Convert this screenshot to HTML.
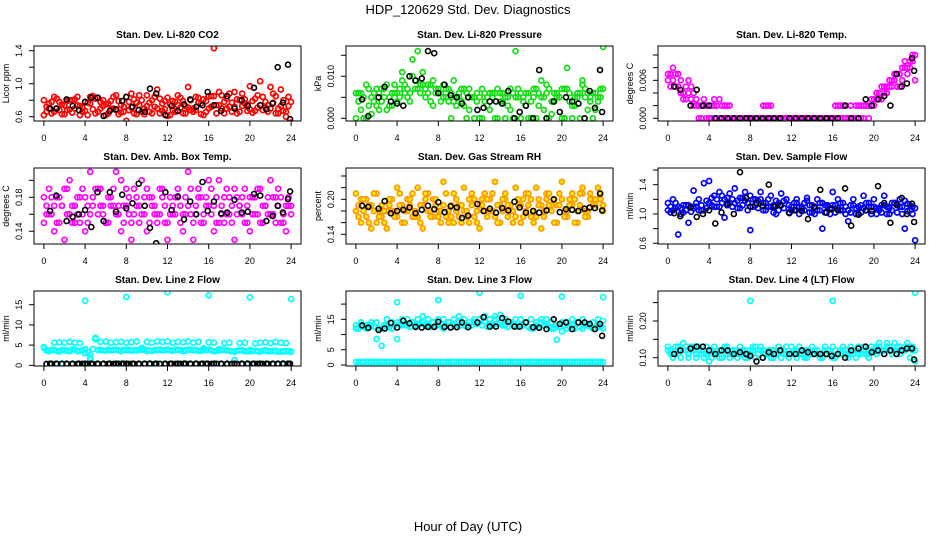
<!DOCTYPE html>
<html><head><meta charset="utf-8">
<style>
html,body{margin:0;padding:0;background:#fff;}
svg{display:block;font-family:"Liberation Sans",Arial,sans-serif;}
</style></head>
<body>
<svg id="chart" width="936" height="540" viewBox="0 0 936 540" xmlns="http://www.w3.org/2000/svg">
<rect x="0" y="0" width="936" height="540" fill="#fff"/>
<text x="468" y="14" text-anchor="middle" font-size="13">HDP_120629  Std. Dev. Diagnostics</text>
<text x="468" y="531" text-anchor="middle" font-size="13">Hour of Day (UTC)</text>
</svg>
<script>
// ---- shared x categories ----
const xTicks = [0,4,8,12,16,20,24];
const hoursHalf = [];
for (let h = 0; h <= 24; h += 0.5) hoursHalf.push(h);
const hoursOff = [];
for (let h = 0.25; h < 24; h += 0.5) hoursOff.push(h);
const blackHours = [0.6,1.2,2.2,2.8,3.4,4,4.6,5.2,5.8,6.4,7,7.6,8,8.6,9.2,9.8,10.3,10.9,11.8,12.4,13,13.6,14.2,14.8,15.4,15.9,16.5,17.2,17.8,18.5,19.2,19.8,20.4,21,21.6,22.2,22.7,23.2,23.7,23.9];
const outlierHours = [4,8,12,16,20,24];

// ---- CO2 ----
const co2A = [0.80,0.70,0.66,0.78,0.74,0.69,0.81,0.73,0.67,0.76,0.82,0.70,0.75,0.79,0.68,0.74,0.84,0.71,0.77,0.66,0.73,0.80,0.70,0.76,0.83,0.68,0.74,0.79,0.71,0.66,0.77,0.81,0.70,0.85,0.74,0.78,0.88,0.72,0.80,0.76,0.69,0.82,0.74,0.78,0.70,0.85,0.73,0.66,0.78];
const co2B = [0.62,0.76,0.84,0.68,0.63,0.80,0.70,0.62,0.78,0.84,0.64,0.78,0.62,0.69,0.86,0.65,0.55,0.88,0.63,0.80,0.86,0.64,0.93,0.67,0.61,0.79,0.86,0.64,0.96,0.70,0.83,0.62,0.85,1.43,0.90,0.64,0.72,0.90,0.66,0.81,0.97,0.67,1.03,0.71,0.96,0.64,0.93,0.60,0.53];
const co2C = [0.72,0.78,0.70,0.75,0.68,0.80,0.74,0.71,0.77,0.69,0.83,0.73,0.76,0.70,0.79,0.72,0.68,0.81,0.74,0.70,0.77,0.72,0.82,0.69,0.75,0.78,0.71,0.73,0.80,0.68,0.76,0.79,0.72,0.74,0.86,0.70,0.77,0.81,0.73,0.75,0.79,0.71,0.84,0.74,0.77,0.70,0.80,0.73];
const co2D = [0.66,0.64,0.82,0.63,0.79,0.65,0.84,0.66,0.62,0.85,0.66,0.80,0.64,0.84,0.63,0.66,0.78,0.64,0.86,0.63,0.66,0.84,0.64,0.79,0.62,0.66,0.83,0.64,0.68,0.84,0.63,0.66,0.85,0.64,0.70,0.82,0.66,0.64,0.88,0.67,0.65,0.86,0.68,0.66,0.88,0.64,0.67,0.84];
const co2K = [0.70,0.70,0.81,0.73,0.68,0.78,0.83,0.83,0.61,0.67,0.69,0.79,0.84,0.72,0.68,0.66,0.94,0.88,0.62,0.73,0.67,0.75,0.81,0.72,0.74,0.90,0.74,0.67,0.85,0.70,0.80,0.73,0.95,0.74,0.69,0.76,1.20,0.77,1.23,0.57];
// ---- Pressure ----
const presA = [0.006,0.002,0.000,0.005,0.007,0.004,0.008,0.003,0.006,0.009,0.005,0.010,0.007,0.011,0.008,0.009,0.006,0.008,0.007,0.004,0.006,0.003,0.007,0.000,0.005,0.006,0.002,0.006,0.004,0.000,0.007,0.005,0.006,0.003,0.000,0.007,0.005,0.008,0.004,0.006,0.000,0.007,0.003,0.006,0.008,0.002,0.006,0.005,0.007];
const presB = [0.000,0.006,0.008,0.001,0.003,0.007,0.002,0.006,0.004,0.011,0.007,0.014,0.016,0.008,0.006,0.003,0.007,0.005,0.004,0.009,0.005,0.007,0.002,0.005,0.000,0.004,0.006,0.000,0.006,0.005,0.002,0.016,0.000,0.006,0.004,0.000,0.009,0.006,0.001,0.005,0.007,0.012,0.000,0.005,0.009,0.006,0.000,0.004,0.017];
const presC = [0.006,0.005,0.007,0.004,0.006,0.007,0.005,0.006,0.007,0.008,0.006,0.009,0.008,0.007,0.008,0.007,0.006,0.007,0.006,0.005,0.007,0.006,0.005,0.006,0.007,0.005,0.006,0.007,0.006,0.005,0.006,0.007,0.005,0.006,0.007,0.006,0.005,0.007,0.006,0.005,0.007,0.006,0.005,0.006,0.007,0.005,0.006,0.007];
const presD = [0.004,0.000,0.003,0.006,0.002,0.005,0.003,0.008,0.005,0.006,0.004,0.007,0.006,0.005,0.004,0.006,0.004,0.005,0.000,0.003,0.004,0.000,0.005,0.004,0.000,0.003,0.005,0.000,0.004,0.003,0.000,0.005,0.004,0.000,0.005,0.003,0.002,0.000,0.004,0.005,0.000,0.004,0.003,0.000,0.005,0.004,0.002,0.005];
const presK = [0.0045,0.0005,0.005,0.0075,0.004,0.0035,0.003,0.010,0.009,0.0095,0.016,0.0155,0.006,0.008,0.0055,0.005,0.0035,0.005,0.002,0.0025,0.004,0.004,0.0035,0.0065,0.000,0.0015,0.003,0.000,0.0115,0.000,0.004,0.0015,0.005,0.004,0.0035,0.000,0.0065,0.0025,0.0115,0.0015];
// ---- Li-820 Temp ----
const tempA = [0.007,0.008,0.005,0.004,0.006,0.004,0.002,0.002,0.000,0.002,0.003,0.000,0.002,0.000,0.000,0.000,0.000,0.000,0.000,0.000,0.002,0.000,0.000,0.000,0.000,0.000,0.000,0.000,0.000,0.000,0.000,0.000,0.000,0.000,0.002,0.000,0.000,0.002,0.002,0.000,0.003,0.004,0.005,0.005,0.006,0.007,0.008,0.009,0.010];
const tempB = [0.006,0.006,0.007,0.003,0.004,0.002,0.000,0.003,0.002,0.003,0.000,0.002,0.000,0.000,0.000,0.000,0.000,0.000,0.000,0.002,0.000,0.000,0.000,0.000,0.000,0.000,0.000,0.000,0.000,0.000,0.000,0.000,0.000,0.002,0.000,0.000,0.000,0.000,0.000,0.002,0.002,0.003,0.004,0.006,0.007,0.005,0.009,0.008,0.006];
const tempC = [0.007,0.005,0.006,0.005,0.003,0.002,0.002,0.000,0.002,0.002,0.000,0.002,0.000,0.000,0.000,0.000,0.000,0.000,0.000,0.002,0.000,0.000,0.000,0.000,0.000,0.000,0.000,0.000,0.000,0.000,0.000,0.000,0.000,0.002,0.002,0.000,0.002,0.002,0.002,0.003,0.004,0.003,0.005,0.005,0.007,0.006,0.008,0.009];
const tempD = [0.005,0.007,0.004,0.003,0.005,0.003,0.000,0.002,0.000,0.000,0.002,0.000,0.000,0.000,0.000,0.000,0.000,0.000,0.002,0.000,0.000,0.000,0.000,0.000,0.000,0.000,0.000,0.000,0.000,0.000,0.000,0.000,0.002,0.000,0.000,0.002,0.000,0.000,0.002,0.002,0.003,0.005,0.004,0.006,0.005,0.008,0.007,0.010];
const tempK = [0.005,0.0045,0.002,0.0045,0.002,0.002,0.000,0.000,0.000,0.000,0.000,0.000,0.000,0.000,0.000,0.000,0.000,0.000,0.000,0.000,0.000,0.000,0.000,0.000,0.000,0.000,0.000,0.002,0.000,0.000,0.003,0.002,0.003,0.0035,0.002,0.007,0.005,0.0055,0.0095,0.0075];
// ---- Amb Box Temp ----
const ambA = [0.18,0.16,0.17,0.15,0.19,0.16,0.17,0.15,0.18,0.16,0.19,0.17,0.15,0.18,0.16,0.20,0.17,0.15,0.18,0.16,0.19,0.17,0.16,0.18,0.15,0.17,0.19,0.16,0.17,0.15,0.18,0.16,0.20,0.17,0.15,0.18,0.16,0.19,0.17,0.15,0.18,0.16,0.19,0.17,0.16,0.18,0.15,0.17,0.16];
const ambB = [0.15,0.19,0.14,0.18,0.13,0.20,0.15,0.18,0.14,0.21,0.12,0.19,0.15,0.17,0.21,0.14,0.19,0.13,0.17,0.20,0.14,0.18,0.15,0.19,0.13,0.16,0.18,0.14,0.21,0.13,0.19,0.15,0.17,0.14,0.20,0.15,0.18,0.13,0.17,0.19,0.14,0.18,0.15,0.17,0.20,0.15,0.18,0.14,0.17];
const ambC = [0.17,0.16,0.18,0.17,0.16,0.17,0.18,0.16,0.17,0.18,0.16,0.17,0.18,0.17,0.16,0.17,0.18,0.16,0.17,0.16,0.18,0.17,0.16,0.17,0.18,0.16,0.17,0.18,0.16,0.17,0.18,0.17,0.16,0.18,0.17,0.16,0.17,0.18,0.16,0.17,0.18,0.16,0.17,0.16,0.18,0.17,0.16,0.17];
const ambD = [0.16,0.18,0.15,0.17,0.19,0.15,0.16,0.19,0.15,0.17,0.19,0.16,0.15,0.19,0.17,0.15,0.16,0.19,0.15,0.18,0.15,0.16,0.19,0.15,0.16,0.18,0.15,0.16,0.19,0.16,0.15,0.18,0.19,0.15,0.16,0.19,0.15,0.16,0.18,0.15,0.16,0.19,0.15,0.18,0.16,0.19,0.15,0.18];
const ambK = [0.164,0.182,0.152,0.157,0.160,0.165,0.145,0.186,0.152,0.186,0.163,0.183,0.167,0.173,0.196,0.170,0.144,0.126,0.186,0.165,0.181,0.154,0.175,0.160,0.198,0.164,0.175,0.161,0.162,0.177,0.162,0.163,0.184,0.182,0.152,0.158,0.170,0.162,0.178,0.187];
// ---- Gas Stream RH ----
const rhA = [0.18,0.20,0.17,0.19,0.16,0.19,0.18,0.20,0.17,0.19,0.18,0.21,0.17,0.19,0.18,0.20,0.17,0.19,0.18,0.16,0.19,0.18,0.20,0.17,0.19,0.18,0.20,0.17,0.19,0.21,0.18,0.17,0.19,0.18,0.20,0.17,0.19,0.21,0.18,0.19,0.20,0.17,0.19,0.18,0.21,0.17,0.19,0.20,0.18];
const rhB = [0.21,0.16,0.20,0.15,0.21,0.17,0.15,0.18,0.22,0.16,0.20,0.17,0.22,0.15,0.21,0.17,0.18,0.23,0.16,0.21,0.17,0.22,0.16,0.20,0.15,0.21,0.18,0.23,0.16,0.20,0.19,0.22,0.16,0.21,0.17,0.22,0.15,0.20,0.19,0.16,0.23,0.18,0.21,0.16,0.22,0.18,0.20,0.22,0.19];
const rhC = [0.19,0.18,0.19,0.18,0.17,0.18,0.19,0.18,0.19,0.18,0.19,0.18,0.19,0.20,0.18,0.19,0.18,0.17,0.19,0.18,0.19,0.18,0.19,0.18,0.19,0.20,0.18,0.19,0.18,0.19,0.18,0.19,0.20,0.19,0.18,0.19,0.18,0.19,0.20,0.19,0.18,0.19,0.20,0.19,0.18,0.20,0.19,0.20];
const rhD = [0.17,0.20,0.16,0.21,0.18,0.16,0.20,0.17,0.21,0.16,0.20,0.17,0.16,0.21,0.17,0.20,0.16,0.21,0.17,0.20,0.16,0.17,0.21,0.16,0.20,0.17,0.21,0.16,0.20,0.17,0.16,0.20,0.17,0.21,0.16,0.20,0.17,0.21,0.16,0.21,0.17,0.20,0.16,0.21,0.17,0.21,0.20,0.21];
const rhK = [0.189,0.187,0.184,0.197,0.176,0.180,0.182,0.186,0.176,0.182,0.189,0.183,0.195,0.178,0.188,0.186,0.168,0.172,0.192,0.180,0.184,0.177,0.185,0.181,0.196,0.186,0.177,0.180,0.177,0.181,0.200,0.178,0.183,0.182,0.180,0.184,0.186,0.185,0.210,0.181];
// ---- Sample Flow ----
const sfA = [1.15,1.05,1.10,1.02,1.12,1.08,1.20,1.05,1.15,1.25,1.10,1.20,1.28,1.15,1.22,1.18,1.25,1.12,1.20,1.15,1.10,1.18,1.12,1.20,1.10,1.15,1.08,1.18,1.12,1.05,1.15,1.10,1.12,1.08,1.15,1.05,1.12,1.10,1.08,1.15,1.10,1.05,1.12,1.08,1.15,1.10,1.18,1.12,1.08];
const sfB = [1.05,1.20,0.72,1.12,0.88,1.32,1.05,1.42,1.45,1.10,1.30,0.95,1.15,1.35,1.08,1.30,0.78,1.20,1.30,1.05,1.25,1.00,1.28,1.20,1.05,1.20,1.10,1.22,1.02,1.20,0.80,1.12,1.30,1.20,1.05,0.90,1.20,1.00,1.25,1.10,1.20,1.08,1.25,1.00,1.15,1.20,0.80,1.05,0.64];
const sfC = [1.10,1.15,1.08,1.12,1.10,1.15,1.12,1.18,1.22,1.20,1.25,1.22,1.20,1.18,1.22,1.15,1.20,1.18,1.15,1.20,1.12,1.15,1.18,1.12,1.15,1.10,1.15,1.12,1.10,1.15,1.12,1.08,1.12,1.15,1.10,1.12,1.08,1.12,1.15,1.10,1.08,1.12,1.10,1.15,1.12,1.10,1.14,1.10];
const sfD = [1.02,1.08,1.00,1.05,1.03,1.10,1.05,1.08,1.12,1.10,1.15,1.12,1.10,1.08,1.12,1.05,1.10,1.08,1.05,1.10,1.02,1.05,1.08,1.02,1.05,1.00,1.05,1.02,1.00,1.05,1.02,1.00,1.02,1.05,1.00,1.02,1.00,1.02,1.05,1.00,1.00,1.02,1.00,1.05,1.02,1.00,1.04,1.00];
const sfK = [1.01,0.97,1.09,0.96,1.00,1.05,0.87,1.02,1.14,1.00,1.57,1.22,1.10,1.15,1.11,1.40,1.10,1.12,1.01,1.05,1.04,0.93,1.09,1.33,1.02,1.07,1.05,1.35,0.84,0.99,1.05,1.04,1.38,1.15,0.88,1.13,1.22,1.00,1.14,0.89];
// ---- Line 2 Flow ----
const l2A = [4.5,3.6,3.8,3.4,3.7,3.5,3.9,3.6,3.0,2.5,6.5,3.8,3.6,3.7,3.9,3.5,3.8,3.6,3.7,3.9,3.5,3.6,3.8,3.7,3.9,3.6,3.8,3.5,3.9,3.7,3.6,3.8,3.9,3.5,3.7,3.8,3.6,3.4,3.7,3.5,3.8,3.6,3.4,3.7,3.5,3.6,3.4,3.5,3.4];
const l2B = [4.3,3.5,5.6,5.7,5.6,5.8,5.6,5.5,4.0,1.8,6.8,5.8,5.9,5.6,5.7,5.8,5.6,5.7,5.9,4.3,5.8,5.6,5.9,5.8,5.9,5.6,5.8,5.7,5.9,5.6,5.8,4.2,5.7,5.6,4.0,5.5,5.6,1.3,5.5,5.6,3.5,5.4,5.6,5.7,5.5,5.8,5.6,5.5,3.4];
const l2C = [3.7,3.8,3.6,3.8,3.7,3.9,3.5,3.7,3.3,4.0,3.8,3.7,3.9,3.8,3.7,3.9,3.8,3.7,3.8,3.9,3.7,3.8,3.9,3.8,3.7,3.9,3.8,3.7,3.9,3.8,3.6,3.8,3.7,3.6,3.8,3.7,3.5,3.6,3.7,3.5,3.6,3.5,3.6,3.5,3.6,3.4,3.5,3.5];
const l2D = [0.3,0.4,0.3,0.5,0.3,0.4,0.3,0.4,0.5,0.3,0.4,0.3,0.4,0.3,0.5,0.4,0.3,0.4,0.3,0.4,0.5,0.3,0.4,0.3,0.4,0.3,0.4,0.5,0.3,0.4,0.3,0.4,0.3,0.5,0.4,0.3,0.4,0.3,0.4,0.5,0.3,0.4,0.3,0.4,0.3,0.4,0.5,0.3];
const l2Out = [16.0,16.9,18.1,17.3,16.8,16.4];
const l2K = [0.4,0.4,0.4,0.4,0.4,0.4,0.4,0.4,0.4,0.4,0.4,0.4,0.4,0.4,0.4,0.4,0.4,0.4,0.4,0.4,0.4,0.4,0.4,0.4,0.4,0.4,0.4,0.4,0.4,0.4,0.4,0.4,0.4,0.4,0.4,0.4,0.4,0.4,0.4,0.4];
const l2K2 = [0.35,0.35,0.35,0.35,0.35,0.35,0.35,0.35,0.35,0.35,0.35,0.35,0.35,0.35,0.35,0.35,0.35,0.35,0.35,0.35,0.35,0.35,0.35,0.35,0.35,0.35,0.35,0.35,0.35,0.35,0.35,0.35,0.35,0.35,0.35,0.35,0.35,0.35,0.35,0.35,0.35,0.35,0.35,0.35,0.35,0.35,0.35,0.35];
// ---- Line 3 Flow ----
const l3A = [12,13,12,13,8.5,12,13,12,14,13,13,14,13,14,13,14,13,12,14,13,14,13,13,14,15,14,13,15,14,13,14,13,13,14,12,13,14,13,12,13,14,12,13,14,12,13,12,13,12];
const l3B = [13,14,13,14,14,6.3,15,14,8.5,15,15,14,15,16,15,14,15,15,14,15,16,15,14,15,15,16,15,16,16.5,15,14,15,15,14,15,14,15,15,14,8.3,11,14,15,14,15,13,14,15,14.5];
const l3C = [12,12.5,13,12.5,12,13,12.5,13,13.5,13,12.5,13,13.5,13,12.5,13,13.5,13,12.5,13,13,12.5,13,13.5,13,12.5,13,13.5,13,12.5,13,12.5,13,12.5,12,12.5,13,12.5,12,12.5,13,12.5,12,12.5,13,12.5,12,12.5];
const l3D = [1,1,1,1,1,1,1,1,1,1,1,1,1,1,1,1,1,1,1,1,1,1,1,1,1,1,1,1,1,1,1,1,1,1,1,1,1,1,1,1,1,1,1,1,1,1,1,1];
const l3E = [1,1,1,1,1,1,1,1,1,1,1,1,1,1,1,1,1,1,1,1,1,1,1,1,1,1,1,1,1,1,1,1,1,1,1,1,1,1,1,1,1,1,1,1,1,1,1,1,1];
const l3Out = [20.6,21.3,23.7,22.7,22.5,22.3];
const l3K = [13,12.2,11.5,12,13.8,12.3,14.5,13.7,12.5,12.3,12.5,12.5,14.2,12.5,12.3,12.4,14,12.4,14,15.7,12.6,12.6,15.4,14.3,12.6,12.6,14,12.4,12.2,11.8,15,13.5,14,11.8,14,14,13.5,11.8,13.5,9.6];
// ---- Line 4 Flow ----
const l4A = [0.12,0.11,0.13,0.12,0.11,0.12,0.13,0.11,0.12,0.11,0.12,0.13,0.11,0.12,0.11,0.12,0.11,0.13,0.12,0.11,0.12,0.11,0.12,0.13,0.11,0.12,0.11,0.12,0.11,0.12,0.11,0.12,0.13,0.11,0.12,0.11,0.12,0.13,0.12,0.11,0.12,0.13,0.12,0.13,0.12,0.13,0.12,0.13,0.12];
const l4B = [0.13,0.10,0.12,0.14,0.10,0.13,0.12,0.10,0.09,0.13,0.10,0.12,0.10,0.11,0.13,0.10,0.12,0.10,0.13,0.11,0.10,0.12,0.10,0.11,0.13,0.10,0.12,0.10,0.13,0.11,0.10,0.12,0.10,0.11,0.13,0.10,0.12,0.11,0.13,0.10,0.12,0.14,0.11,0.12,0.14,0.11,0.13,0.10,0.09];
const l4C = [0.12,0.11,0.12,0.13,0.12,0.11,0.12,0.11,0.12,0.11,0.12,0.11,0.12,0.11,0.12,0.11,0.12,0.11,0.12,0.11,0.12,0.11,0.12,0.11,0.12,0.11,0.12,0.11,0.12,0.11,0.12,0.11,0.12,0.11,0.12,0.11,0.12,0.11,0.12,0.12,0.13,0.12,0.13,0.12,0.13,0.12,0.13,0.12];
const l4D = [0.11,0.13,0.10,0.12,0.13,0.10,0.11,0.13,0.10,0.12,0.10,0.13,0.11,0.10,0.12,0.10,0.13,0.11,0.10,0.12,0.10,0.13,0.11,0.10,0.12,0.13,0.10,0.11,0.12,0.10,0.13,0.11,0.10,0.12,0.11,0.13,0.10,0.12,0.11,0.13,0.11,0.12,0.14,0.11,0.13,0.12,0.14,0.13];
const l4Out = [0.118,0.255,0.112,0.255,0.115,0.277];
const l4K = [0.11,0.12,0.125,0.13,0.13,0.12,0.11,0.12,0.12,0.11,0.115,0.11,0.105,0.09,0.10,0.115,0.11,0.12,0.11,0.11,0.12,0.115,0.11,0.11,0.11,0.105,0.11,0.10,0.12,0.125,0.13,0.115,0.12,0.11,0.12,0.11,0.12,0.125,0.125,0.095];

// ---- layout ----
const colL = [34,346,658], colR = [301,613,925];
const rowT = [46,168,291], rowB = [121,244,366];
const XMIN = -0.96, XMAX = 24.96;

const panels = [
 {name:'co2',title:'Stan. Dev. Li-820 CO2',ylab:'Licor ppm',c:0,r:0,ymin:0.548,ymax:1.457,ticks:[0.6,0.8,1.0,1.2,1.4],labels:[[0.6,'0.6'],[1.0,'1.0'],[1.4,'1.4']],color:'#ff0000',fill:'none',series:[[hoursHalf,co2A],[hoursHalf,co2B],[hoursOff,co2C],[hoursOff,co2D]],blacks:[[blackHours,co2K]]},
 {name:'pressure',title:'Stan. Dev. Li-820 Pressure',ylab:'kPa',c:1,r:0,ymin:-0.00064,ymax:0.01721,ticks:[0,0.005,0.010,0.015],labels:[[0,'0.000'],[0.010,'0.010']],color:'#11dd11',fill:'none',series:[[hoursHalf,presA],[hoursHalf,presB],[hoursOff,presC],[hoursOff,presD]],blacks:[[blackHours,presK]]},
 {name:'temp',title:'Stan. Dev. Li-820 Temp.',ylab:'degrees C',c:2,r:0,ymin:-0.000426,ymax:0.01142,ticks:[0,0.002,0.004,0.006,0.008,0.010],labels:[[0,'0.000'],[0.006,'0.006']],color:'#ff00ff',fill:'none',series:[[hoursHalf,tempA],[hoursHalf,tempB],[hoursOff,tempC],[hoursOff,tempD]],blacks:[[blackHours,tempK]]},
 {name:'amb-temp',title:'Stan. Dev. Amb. Box Temp.',ylab:'degrees C',c:0,r:1,ymin:0.125,ymax:0.2145,ticks:[0.14,0.16,0.18,0.20],labels:[[0.14,'0.14'],[0.18,'0.18']],color:'#ff00ff',fill:'none',series:[[hoursHalf,ambA],[hoursHalf,ambB],[hoursOff,ambC],[hoursOff,ambD]],blacks:[[blackHours,ambK]]},
 {name:'rh',title:'Stan. Dev. Gas Stream RH',ylab:'percent',c:1,r:1,ymin:0.1234,ymax:0.2537,ticks:[0.14,0.16,0.18,0.20,0.22,0.24],labels:[[0.14,'0.14'],[0.20,'0.20']],color:'#ff9900',fill:'#ffee00',series:[[hoursHalf,rhA],[hoursHalf,rhB],[hoursOff,rhC],[hoursOff,rhD]],blacks:[[blackHours,rhK]]},
 {name:'sample-flow',title:'Stan. Dev. Sample Flow',ylab:'ml/min',c:2,r:1,ymin:0.59,ymax:1.628,ticks:[0.6,0.8,1.0,1.2,1.4,1.6],labels:[[0.6,'0.6'],[1.0,'1.0'],[1.4,'1.4']],color:'#0000ff',fill:'none',series:[[hoursHalf,sfA],[hoursHalf,sfB],[hoursOff,sfC],[hoursOff,sfD]],blacks:[[blackHours,sfK]]},
 {name:'line2-flow',title:'Stan. Dev. Line 2 Flow',ylab:'ml/min',c:0,r:2,ymin:-0.17,ymax:18.39,ticks:[0,5,10,15],labels:[[0,'0'],[5,'5'],[10,'10'],[15,'15']],color:'#00ffff',fill:'none',series:[[hoursHalf,l2A],[hoursHalf,l2B],[hoursOff,l2C],[hoursOff,l2D],[outlierHours,l2Out]],blacks:[[blackHours,l2K],[hoursOff,l2K2]]},
 {name:'line3-flow',title:'Stan. Dev. Line 3 Flow',ylab:'ml/min',c:1,r:2,ymin:-0.33,ymax:24.3,ticks:[0,5,10,15,20],labels:[[0,'0'],[5,'5'],[15,'15']],color:'#00ffff',fill:'none',series:[[hoursHalf,l3A],[hoursHalf,l3B],[hoursOff,l3C],[hoursOff,l3D],[hoursHalf,l3E],[outlierHours,l3Out]],blacks:[[blackHours,l3K]]},
 {name:'line4-flow',title:'Stan. Dev. Line 4 (LT) Flow',ylab:'ml/min',c:2,r:2,ymin:0.0774,ymax:0.2817,ticks:[0.10,0.15,0.20,0.25],labels:[[0.10,'0.10'],[0.20,'0.20']],color:'#00ffff',fill:'none',series:[[hoursHalf,l4A],[hoursHalf,l4B],[hoursOff,l4C],[hoursOff,l4D],[outlierHours,l4Out]],blacks:[[blackHours,l4K]]}
];

const NS = 'http://www.w3.org/2000/svg';
const svg = document.getElementById('chart');
function mk(tag, attrs, parent){
  const e = document.createElementNS(NS, tag);
  for (const k in attrs) e.setAttribute(k, attrs[k]);
  parent.appendChild(e);
  return e;
}

panels.forEach(p => {
  const L = colL[p.c], R = colR[p.c], T = rowT[p.r], B = rowB[p.r];
  const xs = h => L + (h - XMIN) / (XMAX - XMIN) * (R - L);
  const ys = v => B - (v - p.ymin) / (p.ymax - p.ymin) * (B - T);
  const g = mk('g', {}, svg);
  
  

  const t = mk('text', {x:(L+R)/2, y:T-8, 'text-anchor':'middle', 'font-size':'10', 'font-weight':'bold'}, g);
  t.textContent = p.title;
  
  

  const cid = 'clip-' + p.name;
  const cp = mk('clipPath', {id:cid}, g);
  mk('rect', {x:L, y:T, width:R-L, height:B-T}, cp);
  const pts = mk('g', {'clip-path':'url(#'+cid+')'}, g);
  
  

  p.series.forEach(s => {
    const hx = s[0], vals = s[1];
    vals.forEach((v, i) => {
      const c = mk('circle', {cx:xs(hx[i]).toFixed(1), cy:ys(v).toFixed(1), r:2.5, fill:p.fill, stroke:p.color, 'stroke-width':1.7}, pts);
      
      
    });
  });
  p.blacks.forEach(s => {
    const hx = s[0], vals = s[1];
    vals.forEach((v, i) => {
      const c = mk('circle', {cx:xs(hx[i]).toFixed(1), cy:ys(v).toFixed(1), r:2.5, fill:'none', stroke:'#000', 'stroke-width':1.6}, pts);
      
      
    });
  });

  const box = mk('rect', {x:L, y:T, width:R-L, height:B-T, fill:'none', stroke:'#000', 'stroke-width':1}, g);
  
  

  const xa = mk('g', {}, g);
  
  
  mk('line', {x1:xs(0), x2:xs(24), y1:B, y2:B, stroke:'#000'}, xa);
  xTicks.forEach(h => {
    mk('line', {x1:xs(h), x2:xs(h), y1:B, y2:B+5, stroke:'#000'}, xa);
    const tl = mk('text', {x:xs(h), y:B+20, 'text-anchor':'middle', 'font-size':'9'}, xa);
    tl.textContent = h;
  });

  const ya = mk('g', {}, g);
  
  
  const tv = p.ticks;
  mk('line', {x1:L, x2:L, y1:ys(tv[0]), y2:ys(tv[tv.length-1]), stroke:'#000'}, ya);
  tv.forEach(v => mk('line', {x1:L-5, x2:L, y1:ys(v), y2:ys(v), stroke:'#000'}, ya));
  p.labels.forEach(lb => {
    const x = L - 12, y = ys(lb[0]);
    const tl = mk('text', {x:x, y:y, 'text-anchor':'middle', 'font-size':'9', transform:'rotate(-90 '+x+' '+y+')'}, ya);
    tl.textContent = lb[1];
  });
  const yx = L - 25, yy = (T + B) / 2;
  const yt = mk('text', {x:yx, y:yy, 'text-anchor':'middle', 'font-size':'9', transform:'rotate(-90 '+yx+' '+yy+')'}, g);
  yt.textContent = p.ylab;
  
  
});
</script>
</body></html>
